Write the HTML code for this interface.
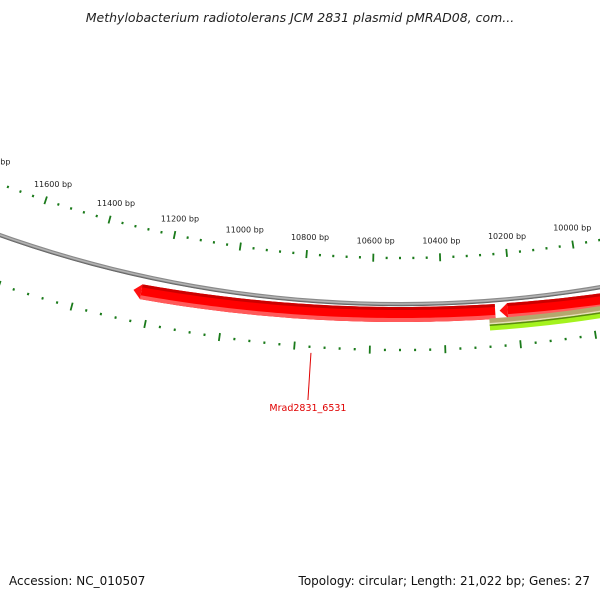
<!DOCTYPE html>
<html><head><meta charset="utf-8"><style>
html,body{margin:0;padding:0;background:#fff;}
#wrap{position:relative;width:600px;height:600px;overflow:hidden;font-family:"DejaVu Sans","Liberation Sans",sans-serif;}
.t{position:absolute;white-space:nowrap;}
</style></head><body>
<div id="wrap">
<div class="t" style="left:0;width:600px;top:10px;text-align:center;font-style:italic;font-size:12.5px;color:#222;">Methylobacterium radiotolerans JCM 2831 plasmid pMRAD08, com...</div>
<svg id="svg" width="600" height="600" style="position:absolute;left:0;top:0"></svg>
<div class="t" style="left:9px;top:574px;font-size:12px;color:#111;">Accession: NC_010507</div>
<div class="t" style="right:10px;top:574px;font-size:12px;color:#111;">Topology: circular; Length: 21,022 bp; Genes: 27</div>
</div>
<script>
const genomeLength = 21022;
const majorTicks = [9800,10000,10200,10400,10600,10800,11000,11200,11400,11600,11800];
const tickLabels = ["9800 bp","10000 bp","10200 bp","10400 bp","10600 bp","10800 bp","11000 bp","11200 bp","11400 bp","11600 bp","11800 bp"];
const geneNames = ["Mrad2831_6531","gene-next"];
const geneStarts = [10305, 9000];
const geneEnds = [11125, 10295];
const featStarts = [9000, 9000];
const featEnds = [10290, 10290];

const NS='http://www.w3.org/2000/svg';
const svg=document.getElementById('svg');
const K=2*Math.PI/genomeLength, TOP=10520, CX=400;
function pt(bp,cy,r){const t=(bp-TOP)*K;return [CX-r*Math.sin(t), cy+r*Math.cos(t)];}
function mk(tag,attrs){const e=document.createElementNS(NS,tag);for(const k in attrs)e.setAttribute(k,attrs[k]);svg.appendChild(e);return e;}
function band(b0,b1,cy,r0,r1,fill,name){
  let n=60,ps=[];
  for(let i=0;i<=n;i++){ps.push(pt(b0+(b1-b0)*i/n,cy,r1));}
  for(let i=n;i>=0;i--){ps.push(pt(b0+(b1-b0)*i/n,cy,r0));}
  const d='M'+ps.map(p=>p[0].toFixed(2)+','+p[1].toFixed(2)).join('L')+'Z';
  const e=mk('path',{d:d,fill:fill});
  
  
  return e;
}
// outer tick ring
const oR=1117, oCY=258-oR;
for(let bp=9600;bp<=12000;bp+=40){
  const major=(bp%200===0);
  const a=pt(bp,oCY,oR+(major?4:1.2)), b=pt(bp,oCY,oR-(major?4:1.2));
  if(a[0]<-5||a[0]>605)continue;
  const l=mk('line',{x1:a[0],y1:a[1],x2:b[0],y2:b[1],stroke:'#1a7a1a','stroke-width':major?1.8:2});
  
  
}
majorTicks.forEach((bp,i)=>{
  const p=pt(bp,oCY,oR-17);
  if(p[0]<-20||p[0]>620)return;
  const t=mk('text',{x:p[0]+2,y:p[1]+3,'font-size':'8','text-anchor':'middle','font-family':'DejaVu Sans, Liberation Sans, sans-serif',fill:'#222'});
  t.textContent=tickLabels[i];
  
  
});
// inner tick ring
const iR=1263, iCY=350-iR;
for(let bp=9600;bp<=12000;bp+=40){
  const major=(bp%200===0);
  const a=pt(bp,iCY,iR+(major?4:1.2)), b=pt(bp,iCY,iR-(major?4:1.2));
  if(a[0]<-5||a[0]>605)continue;
  const l=mk('line',{x1:a[0],y1:a[1],x2:b[0],y2:b[1],stroke:'#1a7a1a','stroke-width':major?1.8:2});
  
  
}
// backbone
const bR=1194, bCY=304-bR;
band(9000,12500,bCY,bR-2,bR+2,'#8a8a8a','backbone');
band(9000,12500,bCY,bR-0.8,bR+0.6,'#b4b4b4','backbone-highlight');
band(9000,12500,bCY,bR+1.2,bR+2.2,'#666666','backbone-edge');
// genes
const gR=1475, gCY=307-gR;
geneStarts.forEach((s,i)=>{
  const e=geneEnds[i];
  const tip=e, base=e-18;
  band(s,base,gCY,gR,gR+15,'#ff0000','gene-'+geneNames[i]);
  band(s,base,gCY,gR,gR+3,'#cc0000','gene-edge-top');
  band(s,base,gCY,gR+11,gR+15,'#ff5a5a','gene-edge-bottom');
  const p1=pt(base,gCY,gR),p2=pt(tip,gCY,gR+7),p3=pt(base,gCY,gR+15);
  const ah=mk('polygon',{points:p1.join(',')+' '+p2.join(',')+' '+p3.join(','),fill:'#ff1010'});
  
  
});
// olive and green features
const fR=1300, fCY=321.6-fR;
band(featStarts[0],featEnds[0],fCY,fR,fR+6,'#b4a86e','feature-olive');
band(featStarts[0],featEnds[0],fCY,fR+4.5,fR+6,'#e6dfb8','feature-olive-light');
band(featStarts[1],featEnds[1],fCY,fR+6,fR+12,'#a4f21e','feature-green');
band(featStarts[1],featEnds[1],fCY,fR+6,fR+7.5,'#5a8a10','feature-green-edge');
// gene label
const lp=pt(10755,iCY,iR+6);
const ln=mk('line',{x1:lp[0],y1:lp[1],x2:lp[0]-3,y2:400,stroke:'#e00000','stroke-width':1});


const gl=mk('text',{x:lp[0]-3,y:411,'font-size':'9.5','text-anchor':'middle','font-family':'DejaVu Sans, Liberation Sans, sans-serif',fill:'#e00000'});
gl.textContent=geneNames[0];


</script>
</body></html>
